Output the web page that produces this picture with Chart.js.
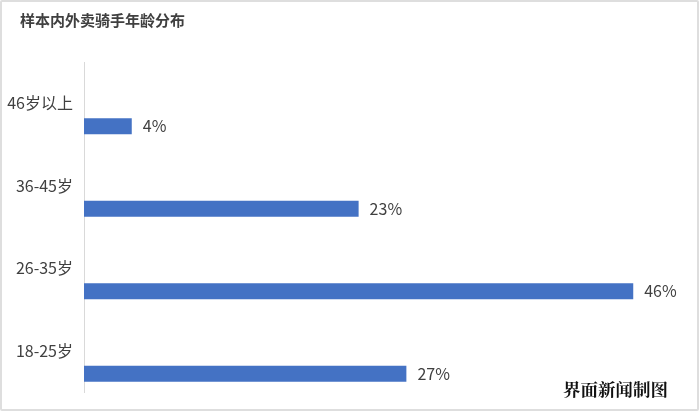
<!DOCTYPE html>
<html>
<head>
<meta charset="utf-8">
<script src="https://cdn.jsdelivr.net/npm/chart.js@4"></script>
<style>
  html, body { margin: 0; padding: 0; background: #fff; }
  #wrap { position: relative; width: 700px; height: 413px; }
  #frame { position: absolute; left: 0; top: 0; width: 699px; height: 411px; box-sizing: border-box;
           border: 2px solid #dedede; border-radius: 2px; pointer-events: none; }
  #title { position: absolute; left: 20px; top: 9px; font: bold 15px "Noto Sans CJK SC", sans-serif; color: #404040; }
  #mark { position: absolute; left: 563px; top: 376px; font: bold 17.5px "Noto Serif CJK SC", serif; color: #111; }
  #box { position: absolute; left: 0; top: 0; width: 700px; height: 413px; }
</style>
</head>
<body>
<div id="wrap">
  <div id="box"><canvas id="age-chart"></canvas></div>
  <div id="frame"></div>
  <div id="title">样本内外卖骑手年龄分布</div>
  <div id="mark">界面新闻制图</div>
</div>
<script>
const ageGroups = ['46岁以上', '36-45岁', '26-35岁', '18-25岁'];
const shares = [4, 23, 46, 27];
const spacer = [null, null, null, null]; // empty slot so bars sit below each label

const labelFont = { family: '"Noto Sans CJK SC", sans-serif', size: 16 };

// value labels to the right of each bar
const valueLabels = {
    id: 'valueLabels',
    afterDatasetsDraw(chart) {
        const ctx = chart.ctx;
        const meta = chart.getDatasetMeta(1);
        ctx.save();
        ctx.font = '16px "Noto Sans CJK SC", sans-serif';
        ctx.fillStyle = '#404040';
        ctx.textAlign = 'left';
        ctx.textBaseline = 'middle';
        meta.data.forEach((bar, i) => {
            ctx.fillText(shares[i] + '%', bar.x + 11, bar.y);
        });
        ctx.restore();
    }
};

const config = {
    type: 'bar',
    data: {
        labels: ageGroups,
        datasets: [
            { label: '', data: spacer },
            {
                label: '占比',
                data: shares,
                backgroundColor: '#4472C4',
                borderWidth: 0
            }
        ]
    },
    options: {
        indexAxis: 'y',
        responsive: true,
        maintainAspectRatio: false,
        animation: false,
        categoryPercentage: 1.115,
        barPercentage: 0.348,
        layout: { padding: { top: 62, bottom: 21, left: 0, right: 19 } },
        plugins: {
            legend: { display: false },
            tooltip: { enabled: false }
        },
        scales: {
            x: {
                display: false,
                min: 0,
                max: 50
            },
            y: {
                grid: { display: false, drawTicks: false },
                border: { display: true, color: '#d9d9d9', width: 1 },
                ticks: { font: labelFont, color: '#404040', padding: 11 },
                afterFit(scale) { scale.width = 84; }
            }
        }
    },
    plugins: [valueLabels]
};

new Chart(document.querySelector('#age-chart'), config);
</script>
</body>
</html>
